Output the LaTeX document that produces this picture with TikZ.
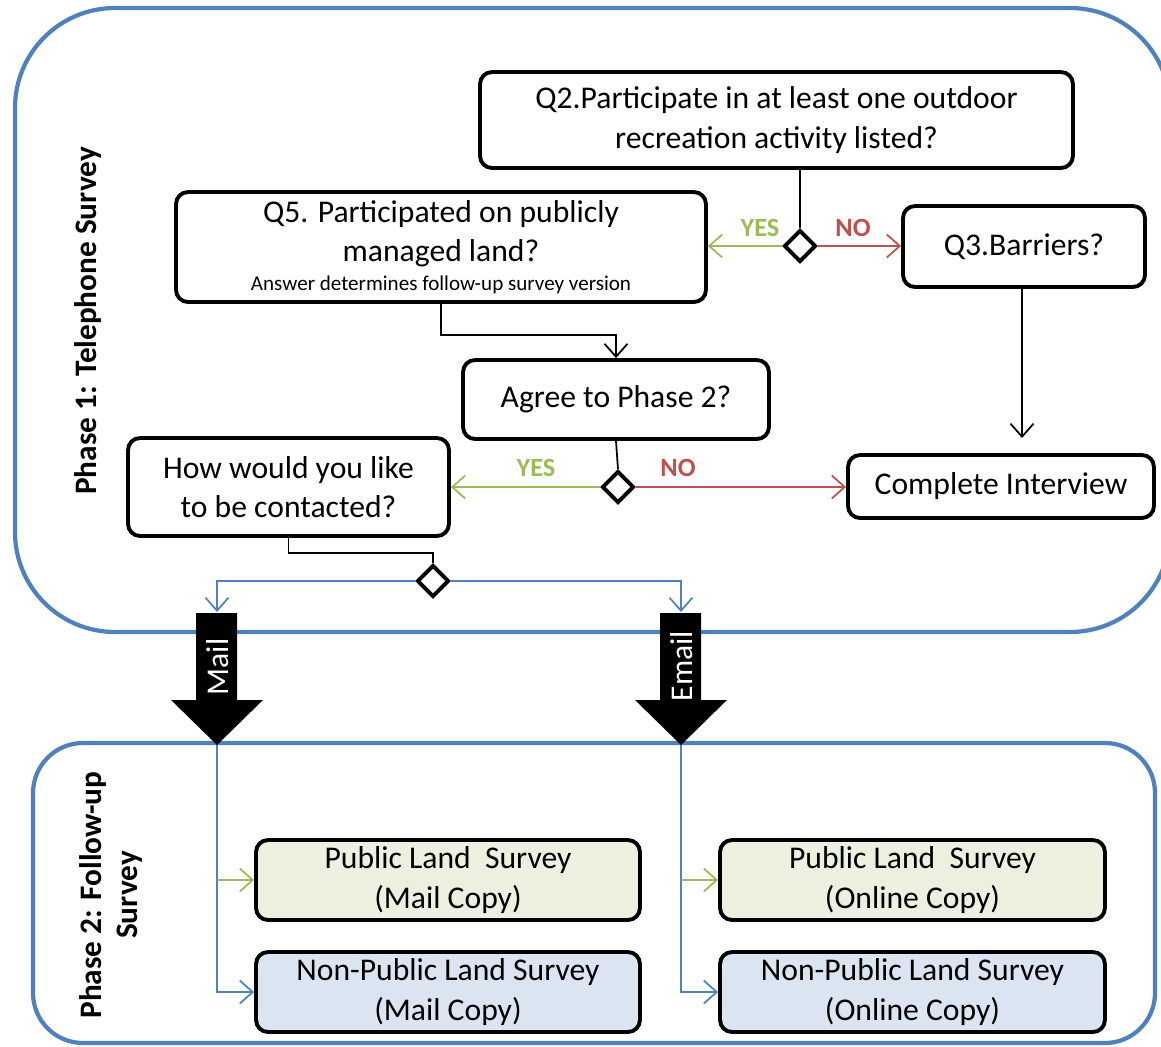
\documentclass[tikz,border=0pt]{standalone}
\usepackage{fontspec}
\setmainfont{Carlito}
\usetikzlibrary{arrows.meta,shapes.geometric}
\definecolor{phaseblue}{HTML}{4F81BD}
\definecolor{yesgreen}{HTML}{9BBB59}
\definecolor{nored}{HTML}{C0504D}
\definecolor{pubfill}{HTML}{EBF1DE}
\definecolor{npubfill}{HTML}{DBE5F1}

\begin{document}
\begin{tikzpicture}[x=.02cm,y=-.02cm,font=\fontsize{18}{22.4}\selectfont,
 box/.style={draw=black,fill=white,rounded corners=.24cm,line width=2.2pt,align=center,inner sep=2pt},
 dec/.style={diamond,draw=black,fill=white,line width=2.2pt,minimum width=.64cm,minimum height=.64cm,inner sep=0pt},
 phase/.style={draw=phaseblue,line width=2.4pt},
 ar/.style={-{Straight Barb[length=2.6mm,width=4.6mm]},line width=1pt},
 ln/.style={line width=1pt},
 lab/.style={font=\bfseries\fontsize{15}{17}\selectfont},
 side/.style={font=\bfseries\fontsize{17.8}{20.5}\selectfont,rotate=90,align=center}]
\useasboundingbox (0,0) rectangle (1161,1046);
\draw[phase,rounded corners=2cm] (15,8) rectangle (1170,632);
\draw[phase,rounded corners=1cm] (33,743) rectangle (1155,1043);
\node[side] (ph1) at (88,321) {Phase 1: Telephone Survey};
\node[side] (ph2) at (111,895) {Phase 2: Follow-up\\Survey};
\fill (196,613) -- (237,613) -- (237,700) -- (263,700) -- (217,745) -- (171,700) -- (196,700) -- cycle;
\fill (660,613) -- (701,613) -- (701,700) -- (727,700) -- (681,745) -- (635,700) -- (660,700) -- cycle;
\node[white,rotate=90] (mail) at (218,667) {Mail};
\node[white,rotate=90] (email) at (682,666) {Email};
\node[box,minimum width=11.86cm,minimum height=1.92cm] (q2) at (776.5,120)
 {Q2.Participate in at least one outdoor\\recreation activity listed?};
\node[box,minimum width=10.6cm,minimum height=2.2cm] (q5) at (441,247)
 {Q5. Participated on publicly\\managed land?\\[-6pt]{\fontsize{12}{13.5}\selectfont Answer determines follow-up survey version}};
\node[box,minimum width=4.84cm,minimum height=1.62cm] (q3) at (1024,246.5) {Q3.Barriers?};
\node[box,minimum width=6.12cm,minimum height=1.58cm] (agree) at (616,399.5) {Agree to Phase 2?};
\node[box,minimum width=6.42cm,minimum height=1.96cm] (how) at (288.5,487)
 {How would you like\\to be contacted?};
\node[box,minimum width=6.12cm,minimum height=1.26cm] (complete) at (1001,486.5) {Complete Interview};
\node[dec] (d1) at (800,246) {};
\node[dec] (d2) at (618,487) {};
\node[dec] (d3) at (433,581) {};
\node[lab,yesgreen] (yes1) at (760,228) {YES};
\node[lab,nored] (no1) at (853,228) {NO};
\node[lab,yesgreen] (yes2) at (536,468) {YES};
\node[lab,nored] (no2) at (678,468) {NO};
\coordinate (q3end) at (1022,438);
\coordinate (mailin) at (217,612);
\coordinate (emailin) at (681,612);
\coordinate (mailtip) at (217,745);
\coordinate (emailtip) at (681,745);
\draw[ln] (d1.north |- q2.south) -- (d1.north);
\draw[ar,yesgreen] (d1.west) -- (d1.west -| q5.east);
\draw[ar,nored] (d1.east) -- (d1.east -| q3.west);
\draw[ar] (q5.south) -- ++(0,31) -| (agree.north);
\draw[ar] (q3.south -| q3end) -- (q3end);
\draw[ln] (agree.south) -- (d2.north);
\draw[ar,yesgreen] (d2.west) -- (d2.west -| how.east);
\draw[ar,nored] (d2.east) -- (d2.east -| complete.west);
\draw[ln] (how.south) -- ++(0,15) -| (d3.north);
\draw[ar,phaseblue] (d3.west) -| (mailin);
\draw[ar,phaseblue] (d3.east) -| (emailin);
\node[box,fill=pubfill,minimum width=7.68cm,minimum height=1.6cm] (pmail) at (448,880)
 {Public Land\ \ Survey\\(Mail Copy)};
\node[box,fill=npubfill,minimum width=7.68cm,minimum height=1.6cm] (npmail) at (448,992)
 {Non-Public Land Survey\\(Mail Copy)};
\node[box,fill=pubfill,minimum width=7.7cm,minimum height=1.6cm] (ponline) at (912.5,880)
 {Public Land\ \ Survey\\(Online Copy)};
\node[box,fill=npubfill,minimum width=7.7cm,minimum height=1.6cm] (nponline) at (912.5,992)
 {Non-Public Land Survey\\(Online Copy)};
\draw[ar,phaseblue] (mailtip) |- (npmail.west);
\draw[ar,yesgreen] (mailtip |- pmail.west) -- (pmail.west);
\draw[ar,phaseblue] (emailtip) |- (nponline.west);
\draw[ar,yesgreen] (emailtip |- ponline.west) -- (ponline.west);
\end{tikzpicture}
\end{document}
